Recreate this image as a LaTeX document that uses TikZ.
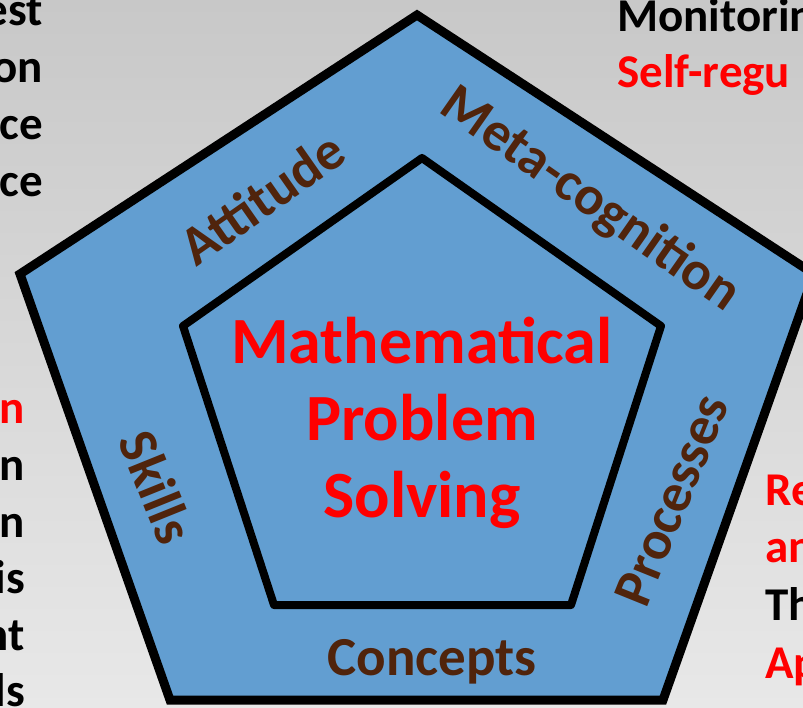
\documentclass[tikz,border=0pt]{standalone}
\usepackage{fontspec}
\setmainfont{Carlito}
\usetikzlibrary{positioning}
\definecolor{bgtop}{RGB}{200,200,200}
\definecolor{bgbot}{RGB}{232,232,232}
\definecolor{ringblue}{RGB}{98,158,209}
\definecolor{labelbrown}{RGB}{80,36,12}

\begin{document}
\begin{tikzpicture}[x=1pt,y=-1pt,
  outerring/.style={draw=black,line width=9pt,fill=ringblue,line join=miter},
  innerring/.style={draw=black,line width=8pt,fill=ringblue,line join=round},
  ringlabel/.style={text=labelbrown,inner sep=0pt,
              font=\fontsize{55}{66}\selectfont\bfseries},
  corelabel/.style={text=red,inner sep=0pt,align=center,
              font=\fontsize{66}{77}\selectfont\bfseries},
  sidetext/.style={inner sep=0pt,font=\fontsize{47}{56}\selectfont\bfseries},
  sidered/.style={sidetext,text=red}]
  \useasboundingbox (0,0) rectangle (803,708);
  \clip (0,0) rectangle (803,708);
  \shade[top color=bgtop,bottom color=bgbot] (0,0) rectangle (803,708);
  % outer pentagon
  \coordinate (otop) at (417,15);
  \coordinate (oleft) at (20,274);
  \coordinate (obl) at (170,700);
  \coordinate (obr) at (663,700);
  \coordinate (oright) at (814,274);
  \draw[outerring] (otop)--(oright)--(obr)--(obl)--(oleft)--cycle;
  % inner pentagon
  \coordinate (itop) at (422,158);
  \coordinate (ileft) at (183,326);
  \coordinate (ibl) at (274,605);
  \coordinate (ibr) at (571,605);
  \coordinate (iright) at (661,326);
  \draw[innerring] (itop)--(iright)--(ibr)--(ibl)--(ileft)--cycle;
  % ring labels
  \node[ringlabel,rotate=35] (attitude) at (262,198) {Attitude};
  \node[ringlabel,rotate=-35] (meta) at (590,200) {Meta-cognition};
  \node[ringlabel,rotate=68] (proc) at (672,500) {Processes};
  \node[ringlabel,rotate=-68] (skills) at (157,487) {Skills};
  \node[ringlabel] (concepts) at (432,662) {Concepts};
  % centre
  \node[corelabel] (core) at (422,423) {Mathematical\\Problem\\Solving};
  % cut-off texts at the edges
  \node[sidetext,anchor=base east] (l1) at (43,26) {est};
  \node[sidetext,anchor=base east] (l2) at (43,83) {on};
  \node[sidetext,anchor=base east] (l3) at (43,140) {ce};
  \node[sidetext,anchor=base east] (l4) at (43,197) {ce};
  \node[sidered,anchor=base east] (l5) at (25,423) {n};
  \node[sidetext,anchor=base east] (l6) at (25,480) {n};
  \node[sidetext,anchor=base east] (l7) at (25,537) {n};
  \node[sidetext,anchor=base east] (l8) at (25,593) {is};
  \node[sidetext,anchor=base east] (l9) at (25,650) {nt};
  \node[sidetext,anchor=base east] (l10) at (25,706) {ls};
  \node[sidetext,anchor=base west] (r1) at (617,32) {Monitorin};
  \node[sidered,anchor=base west] (r2) at (617,88) {Self-regu};
  \node[sidered,anchor=base west] (r3) at (765,505) {Re};
  \node[sidered,anchor=base west] (r4) at (765,562) {an};
  \node[sidetext,anchor=base west] (r5) at (765,620) {Th};
  \node[sidered,anchor=base west] (r6) at (765,678) {Ap};
\end{tikzpicture}
\end{document}
